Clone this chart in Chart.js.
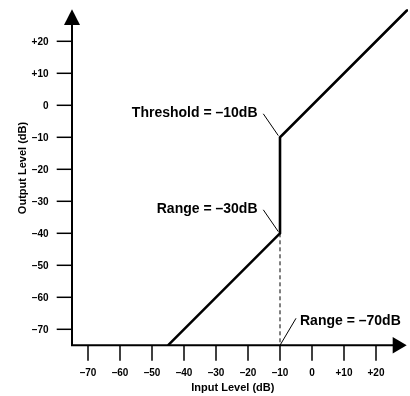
<!DOCTYPE html>
<html>
<head>
<meta charset="utf-8">
<script src="https://cdn.jsdelivr.net/npm/chart.js@4"></script>
<style>
  html, body { margin: 0; padding: 0; background: #fff; }
  canvas { display: block; }
</style>
</head>
<body>
<canvas id="gate" width="410" height="396"></canvas>
<script>
// Gate transfer curve: input level vs output level, in dB
const inputLevels  = [-45, -10, -10, 30];
const outputLevels = [-75, -40, -10, 30];

// Dashed drop from the bottom of the range down to the input axis
const dropInput  = [-10, -10];
const dropOutput = [-40, -75];

// Axis ticks
const inputTicks  = [-70, -60, -50, -40, -30, -20, -10, 0, 10, 20];
const outputTicks = [-70, -60, -50, -40, -30, -20, -10, 0, 10, 20];

// Callouts and the point each one points at
const calloutTexts  = ['Threshold = \u201310dB', 'Range = \u201330dB', 'Range = \u201370dB'];
const calloutInput  = [-10, -10, -10];
const calloutOutput = [-10, -40, -75];

const AXIS_MIN = -75, AXIS_MAX = 30;
const FONT = '"Liberation Sans", Arial, Helvetica, sans-serif';

function dbLabel(v) {
  if (v > 0) return '+' + v;
  if (v < 0) return '\u2013' + Math.abs(v);
  return '0';
}

const axesPlugin = {
  id: 'gateAxes',
  afterDatasetsDraw(chart) {
    const ctx = chart.ctx;
    const xs = chart.scales.x, ys = chart.scales.y;
    const x0 = xs.getPixelForValue(AXIS_MIN);
    const y0 = ys.getPixelForValue(AXIS_MIN);
    const yTop = ys.getPixelForValue(AXIS_MAX);
    const xEnd = xs.getPixelForValue(AXIS_MAX) - 1.3;

    ctx.save();
    ctx.strokeStyle = '#000';
    ctx.fillStyle = '#000';

    // axis lines
    ctx.lineWidth = 2;
    ctx.beginPath();
    ctx.moveTo(x0, yTop + 15);
    ctx.lineTo(x0, y0);
    ctx.lineTo(xEnd - 13, y0);
    ctx.stroke();

    // arrow heads
    ctx.beginPath();
    ctx.moveTo(x0, yTop);
    ctx.lineTo(x0 - 8, yTop + 15.7);
    ctx.lineTo(x0 + 8, yTop + 15.7);
    ctx.closePath();
    ctx.fill();
    ctx.beginPath();
    ctx.moveTo(xEnd, y0);
    ctx.lineTo(xEnd - 14, y0 - 8.3);
    ctx.lineTo(xEnd - 14, y0 + 8.3);
    ctx.closePath();
    ctx.fill();

    // tick marks and labels
    ctx.lineWidth = 1.5;
    ctx.font = 'bold 10px ' + FONT;
    ctx.textBaseline = 'middle';
    ctx.textAlign = 'right';
    outputTicks.forEach(v => {
      const py = ys.getPixelForValue(v);
      ctx.beginPath();
      ctx.moveTo(x0 - 15.3, py);
      ctx.lineTo(x0, py);
      ctx.stroke();
      ctx.fillText(dbLabel(v), x0 - 23.5, py + 0.5);
    });
    ctx.textAlign = 'center';
    inputTicks.forEach(v => {
      const px = xs.getPixelForValue(v);
      ctx.beginPath();
      ctx.moveTo(px, y0);
      ctx.lineTo(px, y0 + 15.5);
      ctx.stroke();
      ctx.fillText(dbLabel(v), px, y0 + 27.8);
    });

    // axis titles
    ctx.font = 'bold 11px ' + FONT;
    ctx.fillText('Input Level (dB)', (x0 + xEnd - 13) / 2, y0 + 43);
    ctx.save();
    ctx.translate(22.5, 168);
    ctx.rotate(-Math.PI / 2);
    ctx.fillText('Output Level (dB)', 0, 0);
    ctx.restore();

    // callouts with leader lines
    ctx.font = 'bold 14px ' + FONT;
    ctx.lineWidth = 1;
    calloutTexts.forEach((t, i) => {
      const px = xs.getPixelForValue(calloutInput[i]);
      const py = ys.getPixelForValue(calloutOutput[i]);
      const onRight = i === 2;
      ctx.beginPath();
      if (onRight) {
        ctx.moveTo(px, py);
        ctx.lineTo(px + 16, py - 27);
      } else {
        ctx.moveTo(px - 16.7, py - 23.5);
        ctx.lineTo(px - 1.7, py - 1.7);
      }
      ctx.stroke();
      ctx.textAlign = onRight ? 'left' : 'right';
      ctx.fillText(t, onRight ? px + 20 : px - 22.5, py - 24.3);
    });
    ctx.restore();
  }
};

new Chart(document.getElementById('gate'), {
  type: 'scatter',
  data: {
    datasets: [
      {
        data: inputLevels.map((x, i) => ({ x, y: outputLevels[i] })),
        showLine: true,
        borderColor: '#000',
        borderWidth: 2.6,
        pointRadius: 0,
        tension: 0,
        borderJoinStyle: 'miter'
      },
      {
        data: dropInput.map((x, i) => ({ x, y: dropOutput[i] })),
        showLine: true,
        borderColor: '#000',
        borderWidth: 1,
        borderDash: [4, 3],
        pointRadius: 0
      }
    ]
  },
  options: {
    responsive: false,
    animation: false,
    events: [],
    layout: { padding: { left: 72, right: 2, top: 9.3, bottom: 50.7 } },
    plugins: { legend: { display: false }, tooltip: { enabled: false } },
    scales: {
      x: { type: 'linear', min: AXIS_MIN, max: AXIS_MAX, display: false },
      y: { type: 'linear', min: AXIS_MIN, max: AXIS_MAX, display: false }
    }
  },
  plugins: [axesPlugin]
});
</script>
</body>
</html>
